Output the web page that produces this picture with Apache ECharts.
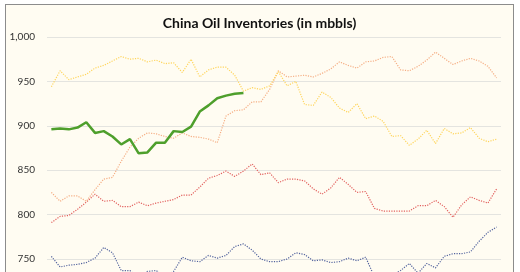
<!DOCTYPE html>
<html>
<head>
<meta charset="utf-8">
<script src="https://cdn.jsdelivr.net/npm/echarts@6/dist/echarts.min.js"></script>
<style>
html, body { margin: 0; padding: 0; background: #fff; width: 520px; height: 272px; overflow: hidden; }
.frame {
  position: absolute; left: 5px; top: 4px;
  width: 507px; height: 340px;
  border: 1px solid #8c8c8c;
  background: #fffcf2;
}
#chart { width: 507px; height: 340px; }
</style>
</head>
<body>
<div class="frame"><div id="chart"></div></div>
<script>
// weekly points, 52 weeks
var weeks = [];
for (var i = 1; i <= 52; i++) weeks.push('W' + i);

var yTicks = [700, 750, 800, 850, 900, 950, 1000];

var s2019 = [753, 741, 743, 744, 746, 751, 763, 757, 737, 737, 728, 736, 737,
  730, 736, 752, 748, 747, 754, 751, 754, 764, 767, 760, 750,
  747, 747, 750, 757, 755, 748, 749, 746, 747, 751, 748, 752,
  730, 728, 732, 737, 745, 734, 745, 740, 753, 756, 756, 758, 770, 780, 786];
var s2020 = [791, 798, 799, 806, 814, 823, 815, 816, 809, 809, 814, 810, 813,
  815, 817, 822, 822, 831, 841, 844, 849, 843, 849, 857, 845,
  847, 836, 840, 840, 838, 829, 823, 830, 842, 834, 825, 826,
  807, 804, 804, 804, 804, 810, 810, 816, 809, 797, 811, 820, 816, 813, 829];
var s2021 = [825, 815, 821, 821, 815, 828, 840, 842, 860, 876, 886, 892, 891,
  888, 886, 892, 888, 887, 885, 881, 911, 917, 918, 927, 927,
  941, 962, 955, 956, 957, 955, 959, 964, 972, 968, 965, 972,
  973, 977, 978, 963, 962, 967, 974, 983, 976, 969, 973, 976, 973, 967, 954];
var s2022 = [944, 962, 952, 955, 958, 965, 968, 973, 978, 975, 976, 972, 974,
  970, 971, 960, 975, 955, 963, 966, 966, 957, 939, 943, 941,
  945, 961, 945, 950, 924, 923, 938, 932, 920, 915, 925, 908,
  911, 905, 888, 889, 878, 885, 895, 880, 897, 891, 892, 898, 886, 882, 885];
var s2023 = [896, 897, 896, 898, 904, 892, 894, 888, 879, 885, 869, 870, 881,
  881, 894, 893, 899, 916, 923, 931, 934, 936, 937];

var chart = echarts.init(document.getElementById('chart'));

function dotted(name, data, color) {
  return {
    name: name, type: 'line', data: data, symbol: 'none',
    lineStyle: { color: color, width: 1.2, type: [1.2, 1.3] },
    itemStyle: { color: color }
  };
}

chart.setOption({
  animation: false,
  backgroundColor: 'transparent',
  title: {
    text: 'China Oil Inventories (in mbbls)',
    left: 'center', top: 6,
    textStyle: { fontFamily: 'Lato', fontSize: 14, fontWeight: 'bold', color: '#111' }
  },
  grid: { left: 41, top: 32, width: 454, height: 266.4 },
  xAxis: {
    type: 'category', data: weeks, boundaryGap: true,
    axisLine: { show: false }, axisTick: { show: false }, axisLabel: { show: false }
  },
  yAxis: {
    type: 'value', min: yTicks[0], max: yTicks[yTicks.length - 1], interval: 50,
    axisLine: { show: false }, axisTick: { show: false },
    axisLabel: {
      margin: 12, fontFamily: 'Lato', fontSize: 10, color: '#333',
      formatter: function (v) { return v.toLocaleString('en-US'); }
    },
    splitLine: { lineStyle: { color: '#e4e4e0', width: 1 } }
  },
  series: [
    dotted('2019', s2019, '#52639e'),
    dotted('2020', s2020, '#e2605e'),
    dotted('2021', s2021, '#f5ae84'),
    dotted('2022', s2022, '#ffd55c'),
    {
      name: '2023', type: 'line', data: s2023, symbol: 'none',
      lineStyle: { color: '#4e9f2c', width: 2.5 },
      itemStyle: { color: '#4e9f2c' }
    }
  ]
});
</script>
</body>
</html>
